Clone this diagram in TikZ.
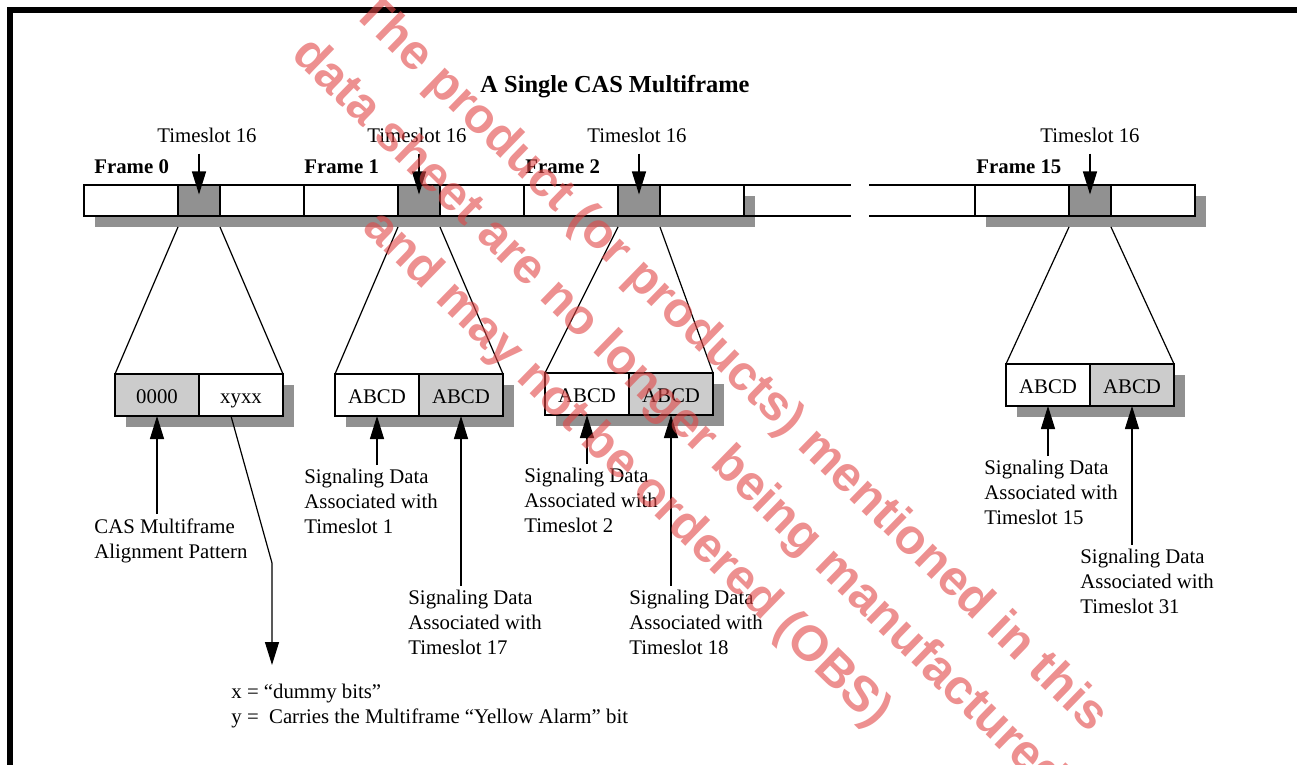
\documentclass[tikz,border=0pt]{standalone}
\usepackage{fontspec}
\setmainfont{Liberation Serif}
\newfontfamily\wmfont{Liberation Sans}
\usepackage{tikz}
\usetikzlibrary{arrows.meta,positioning,calc}
\definecolor{slotgray}{RGB}{145,145,145}
\definecolor{bitgray}{RGB}{204,204,204}
\definecolor{wmred}{RGB}{225,70,70}
\newcommand{\diagfont}{\fontsize{10.4}{12.5}\selectfont}

\begin{document}
\begin{tikzpicture}[x=0.5pt, y=-0.5pt, font=\diagfont,
    cell/.style={draw, fill=white, line width=0.7pt, inner sep=0pt, outer sep=0pt, minimum height=15.5pt},
    slot/.style={cell, fill=slotgray, minimum width=21pt},
    bits/.style={draw, line width=0.7pt, inner sep=0pt, outer sep=0pt, minimum width=42pt, minimum height=21pt, text height=8pt, text depth=0pt},
    lbl/.style={align=left, inner xsep=0pt, inner ysep=2pt, anchor=north west},
    framelbl/.style={anchor=base west, inner sep=0pt, font=\diagfont\bfseries},
    arr/.style={-{Triangle[length=11.5pt,width=7pt]}, line width=0.6pt}]
    \useasboundingbox (0,0) rectangle (1297,765);
    % outer frame of the figure
    \draw[line width=3pt, line join=miter] (10,765) -- (10,10) -- (1297,10);
    \node[anchor=base, font=\fontsize{12.2}{14}\selectfont\bfseries] (title) at (615,93) {A Single CAS Multiframe};
    % shadows under the frame bar
    \fill[slotgray] (95,196) rectangle (755,227);
    \fill[slotgray] (986,196) rectangle (1206,227);
    % frames: 3 cells each, timeslot 16 in gray
    \foreach \x/\n in {84/0,304/1,524/2,975/15} {
      \node[cell, minimum width=47pt] (fa\n) at (\x+47,200.5) {};
      \node[slot] (ts\n) at (\x+115,200.5) {};
      \node[cell, minimum width=42pt] (fb\n) at (\x+178,200.5) {};
    }
    % broken bar between frame 2 and frame 15
    \coordinate (cutl) at (851,200.5);
    \coordinate (cutr) at (869,200.5);
    \draw[line width=0.7pt] (fb2.north east) -- (fb2.north east -| cutl);
    \draw[line width=0.7pt] (fb2.south east) -- (fb2.south east -| cutl);
    \draw[line width=0.7pt] (cutr |- fa15.north) -- (fa15.north west);
    \draw[line width=0.7pt] (cutr |- fa15.south) -- (fa15.south west);
    % frame names
    \foreach \n/\fx in {0/94,1/304,2/525,15/976}
      \node[framelbl] (fl\n) at (\fx,174) {Frame \n};
    % timeslot 16 pointers
    \foreach \n/\lx in {0/207,1/417,2/637,15/1090} {
      \node[anchor=base, inner sep=0pt] (tl\n) at (\lx,143) {Timeslot 16};
      \draw[arr, shorten <=5pt, shorten >=3pt] (tl\n.south -| ts\n) -- (ts\n.center);
    }
    % expanded timeslot 16 contents
    \foreach \n/\bx/\by/\lt/\rt/\lc/\rc in {0/115/374/0000/xyxx/bitgray/white,
        1/335/374/ABCD/ABCD/white/bitgray, 2/545/373/ABCD/ABCD/white/bitgray,
        15/1006/364/ABCD/ABCD/white/bitgray} {
      \fill[slotgray] (\bx+11,\by+11) rectangle (\bx+179,\by+53);
      \node[bits, fill=\lc] (bl\n) at (\bx+42,\by+21) {\lt};
      \node[bits, fill=\rc] (br\n) at (\bx+126,\by+21) {\rt};
      \draw[line width=0.6pt] ([yshift=-5.5pt]ts\n.south west) -- (bl\n.north west);
      \draw[line width=0.6pt] ([yshift=-5.5pt]ts\n.south east) -- (br\n.north east);
    }
    % labels under the bits
    \node[lbl] (cas) at (94,514) {CAS Multiframe\\Alignment Pattern};
    \node[lbl] (sd1) at (304,465) {Signaling Data\\Associated with\\Timeslot 1};
    \node[lbl] (sd17) at (408,586) {Signaling Data\\Associated with\\Timeslot 17};
    \node[lbl] (sd2) at (524,464) {Signaling Data\\Associated with\\Timeslot 2};
    \node[lbl] (sd18) at (629,586) {Signaling Data\\Associated with\\Timeslot 18};
    \node[lbl] (sd15) at (984,456) {Signaling Data\\Associated with\\Timeslot 15};
    \node[lbl] (sd31) at (1080,545) {Signaling Data\\Associated with\\Timeslot 31};
    \node[lbl] (legend) at (231,680) {x = “dummy bits”\\y =\ \ Carries the Multiframe “Yellow Alarm” bit};
    \draw[arr] (cas.north -| bl0) -- (bl0.south);
    \draw[arr] (sd1.north -| bl1) -- (bl1.south);
    \draw[arr] (sd17.north -| br1) -- (br1.south);
    \draw[arr] (sd2.north -| bl2) -- (bl2.south);
    \draw[arr] (sd18.north -| br2) -- (br2.south);
    \draw[arr] (sd15.north -| bl15) -- (bl15.south);
    \draw[arr] (sd31.north -| br15) -- (br15.south);
    % xyxx pointer down to the legend
    \coordinate (bend) at (272,563);
    \coordinate (dummytip) at (272,665);
    \draw[arr] ([xshift=-5pt]br0.south) -- (bend) -- (dummytip);
    % obsolete-part watermark
    \node[rotate=-44.3, text=wmred, text opacity=0.6, align=center,
      font=\wmfont\bfseries\fontsize{24.75}{37}\selectfont] (stamp) at (678,417)
      {The product (or products) mentioned in this\\data sheet are no longer being manufactured\\and may not be ordered (OBS)};
\end{tikzpicture}
\end{document}
